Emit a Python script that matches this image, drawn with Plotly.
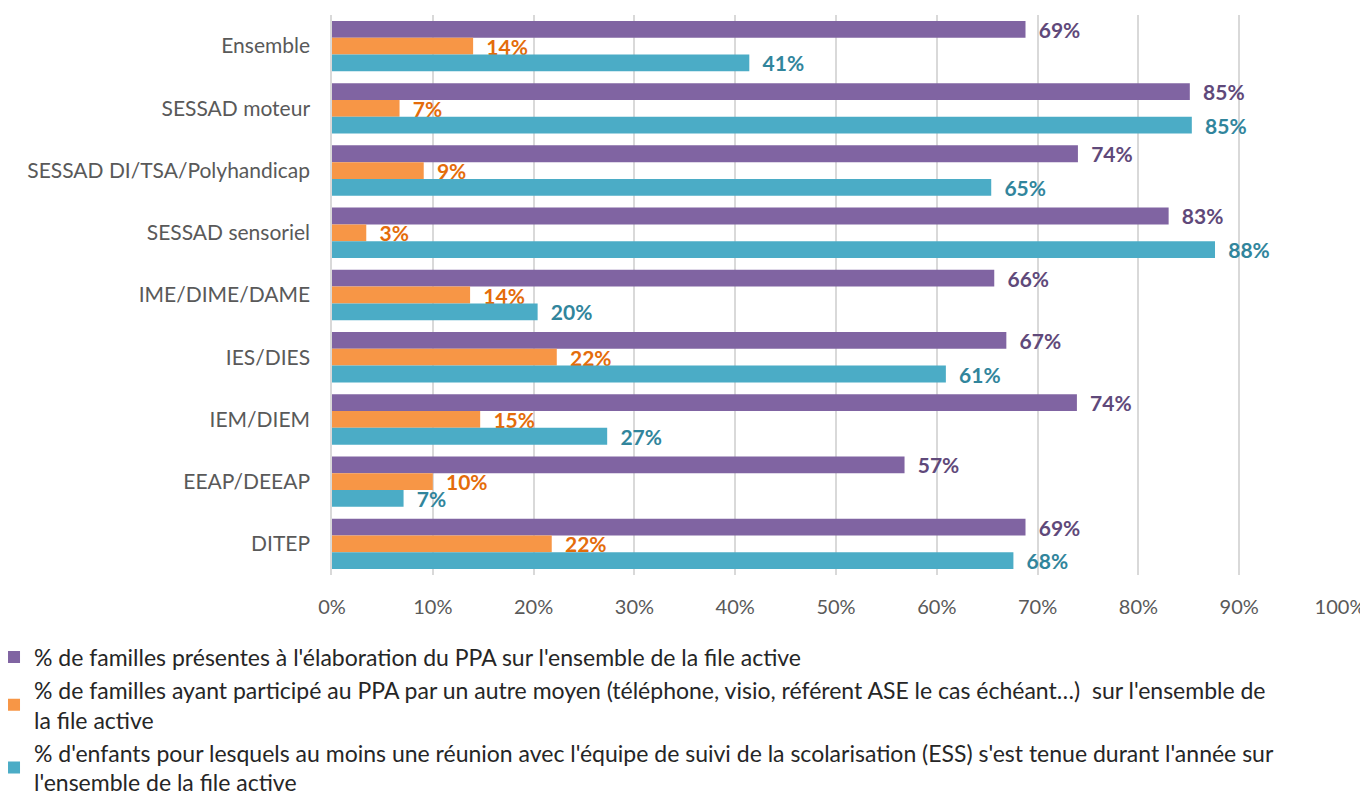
import plotly.graph_objects as go

categories = ["Ensemble", "SESSAD moteur", "SESSAD DI/TSA/Polyhandicap", "SESSAD sensoriel",
              "IME/DIME/DAME", "IES/DIES", "IEM/DIEM", "EEAP/DEEAP", "DITEP"]
presentes = [68.8, 85.1, 74.0, 83.0, 65.7, 66.9, 73.9, 56.8, 68.8]
autre_moyen = [14.0, 6.7, 9.1, 3.4, 13.7, 22.3, 14.7, 10.0, 21.8]
ess = [41.4, 85.3, 65.4, 87.6, 20.4, 60.9, 27.3, 7.1, 67.6]

series_names = [
    "% de familles présentes à l'élaboration du PPA sur l'ensemble de la file active",
    "% de familles ayant participé au PPA par un autre moyen (téléphone, visio, référent ASE le cas échéant…)  sur l'ensemble de<br>la file active",
    "% d'enfants pour lesquels au moins une réunion avec l'équipe de suivi de la scolarisation (ESS) s'est tenue durant l'année sur<br>l'ensemble de la file active",
]
tick_vals = [0, 10, 20, 30, 40, 50, 60, 70, 80, 90, 100]
tick_text = [f"{v}%" for v in tick_vals]

bar_colors = ["#8064A2", "#F79646", "#4BACC6"]
label_colors = ["#5F497A", "#E46C0A", "#31859C"]

fig = go.Figure()
for i, vals in enumerate([presentes, autre_moyen, ess]):
    fig.add_trace(go.Bar(
        y=categories, x=vals, orientation="h", name=series_names[i],
        marker=dict(color=bar_colors[i], line=dict(width=0)),
        texttemplate="\u00a0\u00a0%{x:.0f}%", textposition="outside",
        constraintext="none",
        textfont=dict(family="Lato", size=21, color=label_colors[i], weight="bold"),
        cliponaxis=False, legendgroup=f"g{i}",
    ))

fig.update_layout(
    width=1368, height=812,
    margin=dict(l=324, r=36, t=7, b=245, autoexpand=False),
    paper_bgcolor="white", plot_bgcolor="white",
    barmode="group", bargap=0.19, bargroupgap=0,
    font=dict(family="Lato", size=21, color="#595959"),
    showlegend=True,
    legend=dict(
        xref="paper", yref="paper", x=-0.3353, y=-0.108, xanchor="left", yanchor="top",
        orientation="v", traceorder="normal", tracegroupgap=0,
        font=dict(family="Lato", size=23, color="#262626"),
        itemwidth=30, bgcolor="rgba(0,0,0,0)",
    ),
)
fig.update_xaxes(range=[0, 100], tickvals=tick_vals, ticktext=tick_text,
                 showgrid=True, gridcolor="#D9D9D9", gridwidth=1.5,
                 zeroline=False, showline=False, ticks="", ticklabelstandoff=18,
                 automargin=False,
                 tickfont=dict(family="Lato", size=20, color="#595959"))
fig.update_yaxes(autorange="reversed", showgrid=False, zeroline=False,
                 showline=True, linecolor="#D9D9D9", linewidth=1.5, ticks="",
                 ticklabelstandoff=16, automargin=False,
                 tickfont=dict(family="Lato", size=21, color="#595959"))

fig.write_html("out.html")
